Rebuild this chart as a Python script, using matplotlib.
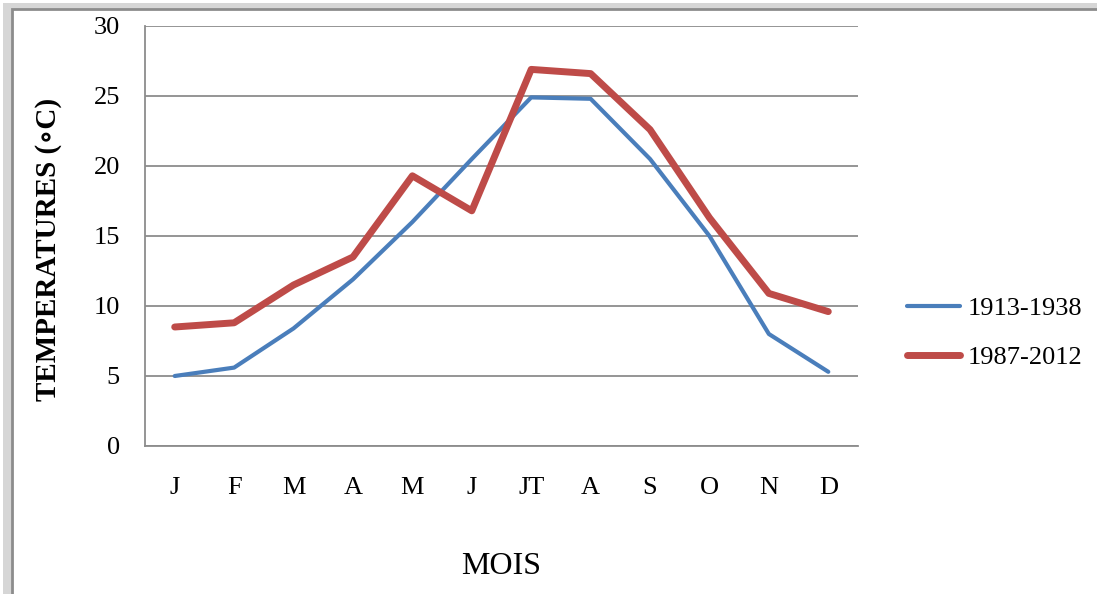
import matplotlib.pyplot as plt
from matplotlib.patches import Rectangle

months = ['J', 'F', 'M', 'A', 'M', 'J', 'JT', 'A', 'S', 'O', 'N', 'D']
temp_1913_1938 = [5.0, 5.6, 8.4, 11.9, 16.0, 20.5, 24.9, 24.8, 20.5, 15.0, 8.0, 5.3]
temp_1987_2012 = [8.5, 8.8, 11.5, 13.5, 19.3, 16.8, 26.9, 26.6, 22.6, 16.3, 10.9, 9.6]
series_names = ['1913-1938', '1987-2012']

plt.rcParams['font.family'] = ['Liberation Serif', 'DejaVu Serif']

fig = plt.figure(figsize=(10.97, 5.94), dpi=100)
W, H = 1097, 594

# chart frame with a soft shadow
fig.patches.append(Rectangle((3 / W, -0.01), 1, 1.01 - 3 / H, transform=fig.transFigure,
                             facecolor='#d6d6d6', edgecolor='none', zorder=0))
fig.patches.append(Rectangle((12 / W, -0.01), 1, 1.01 - 9 / H, transform=fig.transFigure,
                             facecolor='white', edgecolor='#8c8c8c', linewidth=2, zorder=1))

ax = fig.add_axes([145 / W, 1 - 446 / H, (858 - 145) / W, (446 - 26) / H])
ax.set_zorder(2)

x = range(len(months))
ax.plot(x, temp_1913_1938, color='#4A7EBB', linewidth=3, solid_capstyle='round',
        label=series_names[0], zorder=3)
ax.plot(x, temp_1987_2012, color='#BE4B48', linewidth=5, solid_capstyle='round',
        label=series_names[1], zorder=4)

ax.set_xlim(-0.5, len(months) - 0.5)
ax.set_ylim(0, 30)
ax.set_yticks(range(0, 31, 5))
ax.set_xticks(list(x))
ax.set_xticklabels(months)
ax.yaxis.grid(True, color='#8c8c8c', linewidth=1.3)
ax.set_axisbelow(True)
for side in ['top', 'right']:
    ax.spines[side].set_visible(False)
ax.spines['left'].set_color('#8c8c8c')
ax.spines['bottom'].set_color('#8c8c8c')
ax.spines['left'].set_linewidth(1.3)
ax.spines['bottom'].set_linewidth(1.3)
ax.tick_params(axis='both', length=0, labelsize=19)
ax.tick_params(axis='y', pad=18)
ax.tick_params(axis='x', pad=22)

ax.set_ylabel('TEMPERATURES (∘C)', fontsize=21, fontweight='bold')
ax.yaxis.set_label_coords(-0.116, 0.467)
fig.text(501 / W, 1 - 566 / H, 'MOIS', fontsize=23, ha='center', va='center')

ax.legend(loc='center left', bbox_to_anchor=(907 / W, 1 - 333 / H),
          bbox_transform=fig.transFigure, frameon=False, borderpad=0, borderaxespad=0,
          fontsize=19, handlelength=2.0, handletextpad=0.3, labelspacing=0.95)

fig.savefig('out.png', dpi=100)
